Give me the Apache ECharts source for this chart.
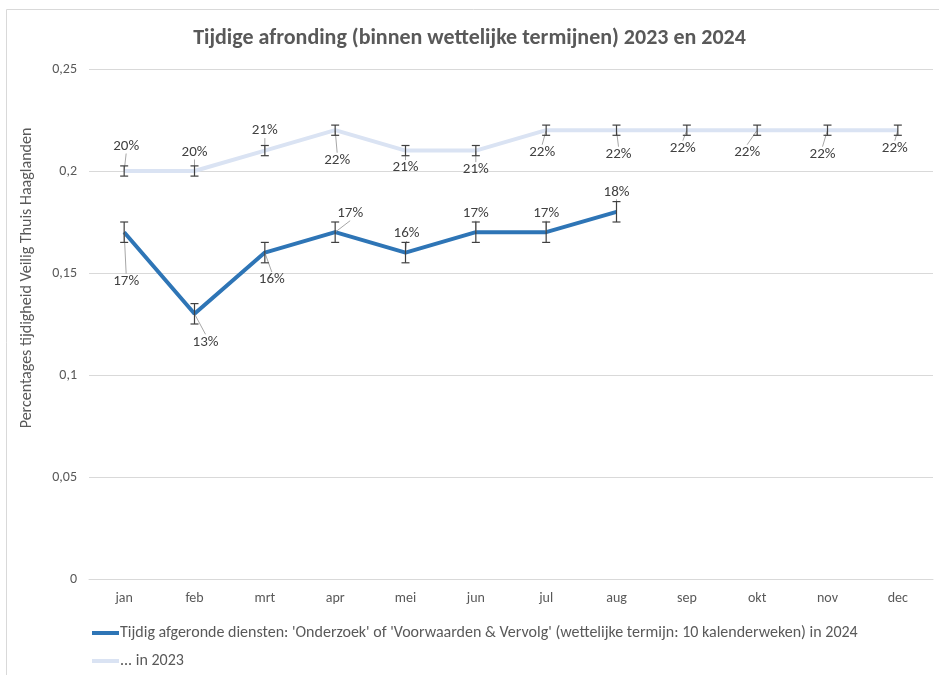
<!DOCTYPE html>
<html>
<head>
<meta charset="utf-8">
<script src="https://cdn.jsdelivr.net/npm/echarts@6/dist/echarts.min.js"></script>
<style>
  html, body { margin: 0; padding: 0; background: #fff; }
  #chart { width: 939px; height: 675px; }
</style>
</head>
<body>
<div id="chart"></div>
<script>
  // maanden
  var months = ['jan', 'feb', 'mrt', 'apr', 'mei', 'jun', 'jul', 'aug', 'sep', 'okt', 'nov', 'dec'];
  // 2024 (t/m aug)
  var values2024 = [0.17, 0.13, 0.16, 0.17, 0.16, 0.17, 0.17, 0.18];
  var err2024 = [0.005, 0.005, 0.005, 0.005, 0.005, 0.005, 0.005, 0.005];
  // 2023
  var values2023 = [0.20, 0.20, 0.21, 0.22, 0.21, 0.21, 0.22, 0.22, 0.22, 0.22, 0.22, 0.22];
  var err2023 = [0.0025, 0.0025, 0.0025, 0.0025, 0.0025, 0.0025, 0.0025, 0.0025, 0.0025, 0.0025, 0.0025, 0.0025];
  var yTicks = [0, 0.05, 0.1, 0.15, 0.2, 0.25];

  var seriesName2024 = "Tijdig afgeronde diensten: 'Onderzoek' of 'Voorwaarden & Vervolg' (wettelijke termijn: 10 kalenderweken) in 2024";
  var seriesName2023 = '... in 2023';

  var font = 'Carlito, "Liberation Sans Narrow", "Open Sans", sans-serif';

  // label offsets (px) t.o.v. het punt, zoals in Excel handmatig verschoven
  var offsets2024 = [[2, 49], [11, 28], [7, 27], [15, -19], [1, -19], [0, -19], [0, -19], [0, -20]];
  var offsets2023 = [[2, -25], [0, -19], [0, -20], [2, 30], [0, 17], [0, 19], [-4, 22], [2, 24], [-4, 18], [-10, 22], [-5, 24], [-3, 18]];

  function errData(vals, errs) {
    return vals.map(function (v, i) { return [i, v - errs[i], v + errs[i]]; });
  }

  function renderErr(params, api) {
    var x = api.value(0);
    var lo = api.coord([x, api.value(1)]);
    var hi = api.coord([x, api.value(2)]);
    var w = 4;
    var style = { stroke: '#404040', lineWidth: 1.2, fill: null };
    return {
      type: 'group',
      children: [
        { type: 'line', shape: { x1: hi[0], y1: hi[1], x2: lo[0], y2: lo[1] }, style: style },
        { type: 'line', shape: { x1: hi[0] - w, y1: hi[1], x2: hi[0] + w, y2: hi[1] }, style: style },
        { type: 'line', shape: { x1: lo[0] - w, y1: lo[1], x2: lo[0] + w, y2: lo[1] }, style: style }
      ]
    };
  }

  function pct(p) { return Math.round(p.value * 100) + '%'; }

  var chart = echarts.init(document.getElementById('chart'));
  chart.setOption({
    animation: false,
    textStyle: { fontFamily: font },
    title: {
      text: 'Tijdige afronding (binnen wettelijke termijnen) 2023 en 2024',
      left: 'center',
      top: 22,
      textStyle: { fontSize: 22, fontWeight: 'bold', color: '#595959', fontFamily: font }
    },
    graphic: [
      {
        type: 'rect',
        shape: { x: 6.5, y: 9.5, width: 940, height: 680 },
        style: { fill: null, stroke: '#d9d9d9', lineWidth: 1 },
        silent: true
      },
      {
        type: 'text',
        x: 27, y: 278, rotation: Math.PI / 2,
        style: {
          text: 'Percentages tijdigheid Veilig Thuis Haaglanden',
          fill: '#595959', fontSize: 16, fontFamily: font,
          align: 'center', verticalAlign: 'middle'
        }
      }
    ],
    legend: {
      orient: 'vertical',
      left: 87,
      top: 620,
      itemGap: 12,
      itemWidth: 27,
      itemHeight: 4,
      icon: 'rect',
      textStyle: { fontSize: 16, color: '#595959', fontFamily: font, padding: [0, 0, 0, -4] },
      data: [seriesName2024, seriesName2023]
    },
    grid: { left: 89, right: 6, top: 69, bottom: 96, containLabel: false },
    xAxis: {
      type: 'category',
      data: months,
      boundaryGap: true,
      axisLine: { lineStyle: { color: '#d9d9d9' } },
      axisTick: { show: false },
      axisLabel: { color: '#595959', fontSize: 14, margin: 12 }
    },
    yAxis: {
      type: 'value',
      min: 0,
      max: 0.25,
      interval: 0.05,
      axisLine: { show: false },
      axisTick: { show: false },
      splitLine: { lineStyle: { color: '#d9d9d9' } },
      axisLabel: {
        color: '#595959', fontSize: 14, margin: 12,
        formatter: function (v) {
          var t = yTicks.filter(function (y) { return Math.abs(y - v) < 1e-9; })[0];
          return String(t === undefined ? v : t).replace('.', ',');
        }
      }
    },
    series: [
      {
        name: seriesName2023,
        type: 'line',
        data: values2023,
        z: 2,
        showSymbol: true,
        symbol: 'circle',
        symbolSize: 1,
        color: '#dae3f3',
        itemStyle: { color: '#dae3f3' },
        lineStyle: { width: 4, color: '#dae3f3' },
        label: {
          show: true, position: 'inside', formatter: pct,
          color: '#404040', fontSize: 15, fontFamily: font
        },
        labelLine: { show: true, lineStyle: { color: '#a6a6a6', width: 1 } },
        labelLayout: function (p) {
          var o = offsets2023[p.dataIndex];
          return { dx: o[0], dy: o[1] };
        }
      },
      {
        name: seriesName2024,
        type: 'line',
        data: values2024,
        z: 3,
        showSymbol: true,
        symbol: 'circle',
        symbolSize: 1,
        color: '#2e75b6',
        itemStyle: { color: '#2e75b6' },
        lineStyle: { width: 4, color: '#2e75b6' },
        label: {
          show: true, position: 'inside', formatter: pct,
          color: '#404040', fontSize: 15, fontFamily: font
        },
        labelLine: { show: true, lineStyle: { color: '#a6a6a6', width: 1 } },
        labelLayout: function (p) {
          var o = offsets2024[p.dataIndex];
          return { dx: o[0], dy: o[1] };
        }
      },
      {
        name: 'err2023',
        type: 'custom',
        z: 4,
        renderItem: renderErr,
        data: errData(values2023, err2023),
        encode: { x: 0, y: [1, 2] },
        silent: true
      },
      {
        name: 'err2024',
        type: 'custom',
        z: 4,
        renderItem: renderErr,
        data: errData(values2024, err2024),
        encode: { x: 0, y: [1, 2] },
        silent: true
      }
    ]
  });
</script>
</body>
</html>
